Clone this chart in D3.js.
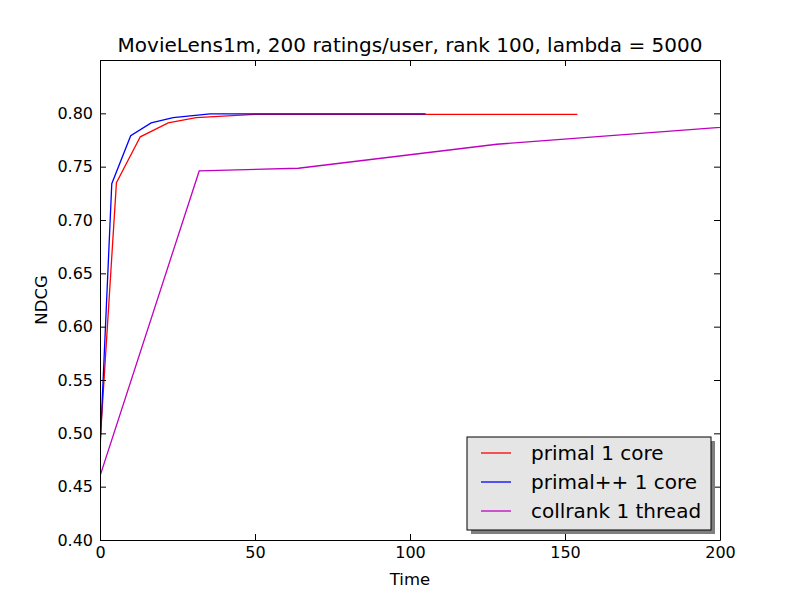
<!DOCTYPE html>
<html lang="en">
<head>
<meta charset="UTF-8">
<title>NDCG vs Time</title>
<script src="https://d3js.org/d3.v7.min.js"></script>
<style>
  body { margin: 0; background: #fff; }
  text { font-family: "DejaVu Sans", sans-serif; }
</style>
</head>
<body>
<svg id="chart" width="800" height="600"></svg>
<script>
// data
const seriesNames = ["primal 1 core", "primal++ 1 core", "collrank 1 thread"];
const seriesColors = ["#ff0000", "#0000ff", "#bf00bf"];

const primalTime = [0, 5.3, 13, 22, 31, 50, 100, 154];
const primalNdcg = [0.49, 0.735, 0.778, 0.791, 0.796, 0.799, 0.799, 0.799];

const primalppTime = [0, 3.8, 9.9, 16.5, 23.6, 35.5, 60, 105];
const primalppNdcg = [0.484, 0.734, 0.779, 0.791, 0.796, 0.7994, 0.7995, 0.7995];

const collrankTime = [0, 32, 64, 128, 256];
const collrankNdcg = [0.46, 0.746, 0.7485, 0.771, 0.799];

const xTicks = [0, 50, 100, 150, 200];
const yTicks = [0.40, 0.45, 0.50, 0.55, 0.60, 0.65, 0.70, 0.75, 0.80];

const series = [
  { name: seriesNames[0], color: seriesColors[0], t: primalTime, v: primalNdcg },
  { name: seriesNames[1], color: seriesColors[1], t: primalppTime, v: primalppNdcg },
  { name: seriesNames[2], color: seriesColors[2], t: collrankTime, v: collrankNdcg }
];

const svg = d3.select("#chart");
const plotL = 100, plotR = 720, plotT = 60, plotB = 540;

const x = d3.scaleLinear().domain([0, 200]).range([plotL, plotR]);
const y = d3.scaleLinear().domain([0.40, 0.85]).range([plotB, plotT]);

svg.append("clipPath").attr("id", "clip")
  .append("rect").attr("x", plotL).attr("y", plotT)
  .attr("width", plotR - plotL).attr("height", plotB - plotT);

// lines
const line = d3.line().x(d => x(d[0])).y(d => y(d[1]));
const g = svg.append("g").attr("clip-path", "url(#clip)");
series.forEach(s => {
  g.append("path")
    .datum(s.t.map((t, i) => [t, s.v[i]]))
    .attr("d", line)
    .attr("fill", "none")
    .attr("stroke", s.color)
    .attr("stroke-width", 1.3);
});

// axes, ticks inside on all four sides
const tickLen = 6;
const axes = [
  [d3.axisBottom(x).tickValues(xTicks).tickFormat(d3.format("d")), `translate(0,${plotB})`],
  [d3.axisTop(x).tickValues(xTicks).tickFormat(""), `translate(0,${plotT})`],
  [d3.axisLeft(y).tickValues(yTicks).tickFormat(d3.format(".2f")), `translate(${plotL},0)`],
  [d3.axisRight(y).tickValues(yTicks).tickFormat(""), `translate(${plotR},0)`]
];
axes.forEach(([ax, tr]) => {
  const a = svg.append("g").attr("transform", tr)
    .call(ax.tickSizeInner(-tickLen).tickSizeOuter(0).tickPadding(7));
  a.select(".domain").attr("stroke", "#000").attr("stroke-width", 1);
  a.selectAll(".tick line").attr("stroke", "#000");
  a.selectAll(".tick text").attr("font-size", 16).attr("fill", "#000")
    .attr("font-family", "DejaVu Sans");
});

// title and labels
svg.append("text").attr("x", (plotL + plotR) / 2).attr("y", 52)
  .attr("text-anchor", "middle").attr("font-size", 20)
  .text("MovieLens1m, 200 ratings/user, rank 100, lambda = 5000");
svg.append("text").attr("x", (plotL + plotR) / 2).attr("y", 585)
  .attr("text-anchor", "middle").attr("font-size", 16.5).text("Time");
svg.append("text")
  .attr("transform", `translate(47,${(plotT + plotB) / 2}) rotate(-90)`)
  .attr("text-anchor", "middle").attr("font-size", 16.5).text("NDCG");

// legend with shadow
const lg = svg.append("g");
const lx = 467, ly = 437, lw = 244, lh = 93;
lg.append("rect").attr("x", lx + 4).attr("y", ly + 4).attr("width", lw).attr("height", lh)
  .attr("fill", "#7f7f7f");
lg.append("rect").attr("x", lx).attr("y", ly).attr("width", lw).attr("height", lh)
  .attr("fill", "#e5e5e5").attr("stroke", "#000").attr("stroke-width", 1);
series.forEach((s, i) => {
  const ry = ly + 16 + i * 29;
  lg.append("line").attr("x1", lx + 14).attr("x2", lx + 44)
    .attr("y1", ry).attr("y2", ry).attr("stroke", s.color).attr("stroke-width", 1.3);
  lg.append("text").attr("x", lx + 64).attr("y", ry + 7)
    .attr("font-size", 20).text(s.name);
});
</script>
</body>
</html>
